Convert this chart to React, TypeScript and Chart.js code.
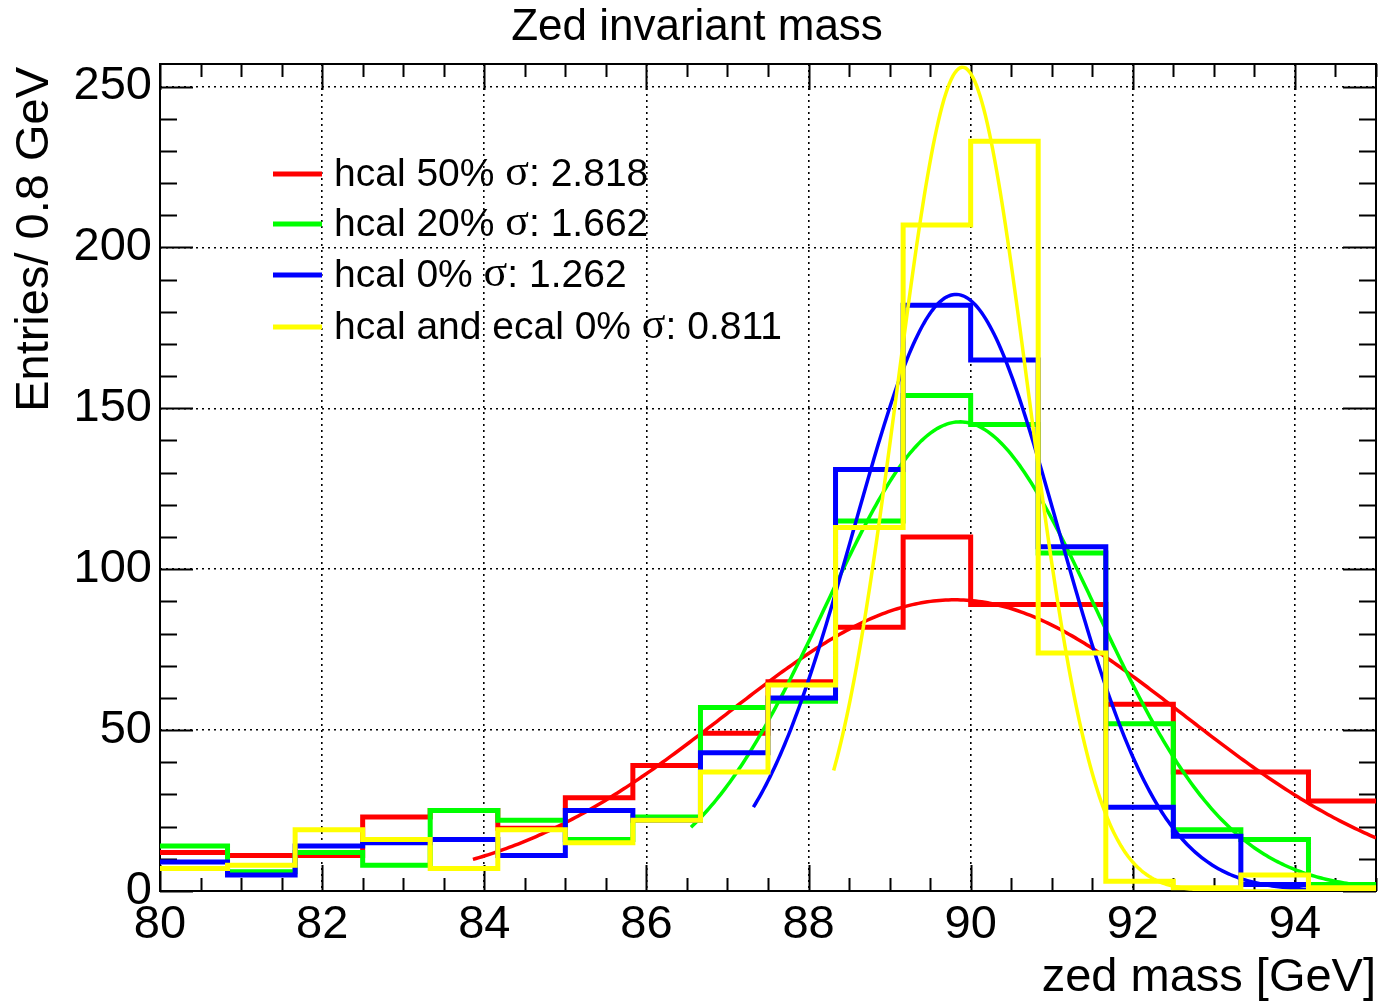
import React, { useEffect, useRef } from "react";
import { Chart, registerables } from "chart.js";

Chart.register(...registerables);

// ---- Data ----
const TITLE = "Zed invariant mass";
const X_TITLE = "zed mass [GeV]";
const Y_TITLE = "Entries/ 0.8 GeV";
const X_MIN = 80;
const X_MAX = 95;
const Y_MAX = 257;

const binLowEdges = [
  80, 80.833, 81.667, 82.5, 83.333, 84.167, 85, 85.833, 86.667, 87.5, 88.333,
  89.167, 90, 90.833, 91.667, 92.5, 93.333, 94.167,
];

const hcal50 = [12, 11, 11, 23, 25, 19.5, 29, 39, 49, 65, 82, 110, 89, 89, 58, 37, 37, 28];
const hcal20 = [14, 6, 12, 8, 25, 22, 16, 23, 57, 59, 115, 154, 145, 105, 52, 19, 16, 2];
const hcal0 = [9, 5, 14, 15, 16, 11, 25, 22, 43, 60, 131, 182, 165, 107, 26, 17, 2, 0];
const hcalEcal0 = [7, 8, 19, 16, 7, 19, 15, 22, 37, 64, 113, 207, 233, 74, 3, 1, 5, 1];

const seriesLabels = ["hcal 50%", "hcal 20%", "hcal 0%", "hcal and ecal 0%"];
const seriesColors = ["#ff0000", "#00ff00", "#0000ff", "#ffff00"];
const fitSigmas = [2.818, 1.662, 1.262, 0.811];
const fitSigmaText = ["2.818", "1.662", "1.262", "0.811"];
const fitMeans = [89.8, 89.87, 89.82, 89.9];
const fitAmplitudes = [90.5, 145.8, 185.4, 256];
const fitStarts = [83.86, 86.55, 87.32, 88.31];
const fitEnds = [95, 95, 95, 95];

const xTickValues = [80, 82, 84, 86, 88, 90, 92, 94];
const yTickValues = [0, 50, 100, 150, 200, 250];

const SANS = "'Liberation Sans', Arial, Helvetica, sans-serif";
const SERIF = "'Liberation Serif', 'DejaVu Serif', serif";

function histPoints(values: number[]) {
  const pts = values.map((v, i) => ({ x: binLowEdges[i], y: v }));
  pts.push({ x: X_MAX, y: values[values.length - 1] });
  return pts;
}

function fitPoints(i: number) {
  const pts: { x: number; y: number }[] = [];
  const n = 300;
  const a = fitStarts[i];
  const b = fitEnds[i];
  for (let k = 0; k <= n; k++) {
    const x = a + ((b - a) * k) / n;
    const d = (x - fitMeans[i]) / fitSigmas[i];
    pts.push({ x, y: fitAmplitudes[i] * Math.exp(-0.5 * d * d) });
  }
  return pts;
}

const frameTicksPlugin = {
  id: "rootFrame",
  beforeDatasetsDraw(chart: any) {
    const { ctx, chartArea: a, scales } = chart;
    const x = scales.x;
    const y = scales.y;
    ctx.save();
    ctx.strokeStyle = "#000";
    ctx.lineWidth = 2;
    ctx.beginPath();
    for (let v = X_MIN; v <= X_MAX + 1e-6; v += 0.5) {
      const px = Math.round(x.getPixelForValue(v)) + 0.5;
      const major = Math.abs(v / 2 - Math.round(v / 2)) < 1e-6;
      const len = major ? 26 : 13;
      ctx.moveTo(px, a.bottom);
      ctx.lineTo(px, a.bottom - len);
      ctx.moveTo(px, a.top);
      ctx.lineTo(px, a.top + len);
    }
    for (let v = 0; v <= Y_MAX; v += 10) {
      const py = Math.round(y.getPixelForValue(v)) + 0.5;
      const major = v % 50 === 0;
      const len = major ? 33 : 17;
      ctx.moveTo(a.left, py);
      ctx.lineTo(a.left + len, py);
      ctx.moveTo(a.right, py);
      ctx.lineTo(a.right - len, py);
    }
    ctx.stroke();
    ctx.lineWidth = 2;
    ctx.strokeRect(a.left, a.top, a.right - a.left, a.bottom - a.top);
    ctx.restore();
  },
  afterDraw(chart: any) {
    const { ctx, chartArea: a } = chart;
    ctx.save();
    ctx.fillStyle = "#000";
    // title
    ctx.font = `44px ${SANS}`;
    ctx.textAlign = "center";
    ctx.textBaseline = "middle";
    ctx.fillText(TITLE, 697, 28);
    // x title
    ctx.font = `47px ${SANS}`;
    ctx.textAlign = "right";
    ctx.fillText(X_TITLE, a.right, 978);
    // y title
    ctx.save();
    ctx.translate(35, a.top + 3);
    ctx.rotate(-Math.PI / 2);
    ctx.textAlign = "right";
    ctx.textBaseline = "middle";
    ctx.fillText(Y_TITLE, 0, 0);
    ctx.restore();

    // legend
    const rowY = [174, 224, 275, 327];
    for (let i = 0; i < seriesLabels.length; i++) {
      const yy = rowY[i];
      ctx.strokeStyle = seriesColors[i];
      ctx.lineWidth = 5;
      ctx.beginPath();
      ctx.moveTo(273, yy);
      ctx.lineTo(322, yy);
      ctx.stroke();
      ctx.fillStyle = "#000";
      ctx.textAlign = "left";
      ctx.textBaseline = "middle";
      let cx = 334;
      ctx.font = `39px ${SANS}`;
      const p1 = seriesLabels[i] + " ";
      ctx.fillText(p1, cx, yy + 1);
      cx += ctx.measureText(p1).width;
      ctx.font = `44px ${SERIF}`;
      ctx.fillText("σ", cx, yy - 1);
      cx += ctx.measureText("σ").width;
      ctx.font = `39px ${SANS}`;
      ctx.fillText(": " + fitSigmaText[i], cx, yy + 1);
    }
    ctx.restore();
  },
};

export default function App() {
  const canvasRef = useRef<HTMLCanvasElement | null>(null);

  useEffect(() => {
    const canvas = canvasRef.current;
    if (!canvas) return;
    Chart.defaults.font.family = SANS;
    const datasets: any[] = [];
    for (let i = 0; i < 4; i++) {
      const vals = [hcal50, hcal20, hcal0, hcalEcal0][i];
      datasets.push({
        label: seriesLabels[i],
        data: histPoints(vals),
        borderColor: seriesColors[i],
        borderWidth: 5,
        stepped: "before",
        pointRadius: 0,
        fill: false,
        order: 8 - 2 * i,
        borderJoinStyle: "miter",
      });
      datasets.push({
        label: seriesLabels[i] + " fit",
        data: fitPoints(i),
        borderColor: seriesColors[i],
        borderWidth: 3.5,
        pointRadius: 0,
        tension: 0,
        fill: false,
        order: 7 - 2 * i,
      });
    }

    const chart = new Chart(canvas, {
      type: "line",
      data: { datasets },
      plugins: [frameTicksPlugin],
      options: {
        animation: false,
        responsive: false,
        devicePixelRatio: 1,
        layout: { padding: { top: 64, right: 5, bottom: 0, left: 0 } },
        plugins: {
          legend: { display: false },
          tooltip: { enabled: false },
          title: { display: false },
        },
        scales: {
          x: {
            type: "linear",
            min: X_MIN,
            max: X_MAX,
            afterFit: (s: any) => {
              s.height = 112;
            },
            afterBuildTicks: (s: any) => {
              s.ticks = xTickValues.map((v) => ({ value: v }));
            },
            ticks: {
              font: { size: 47, family: SANS },
              color: "#000",
              padding: 6,
              maxRotation: 0,
              autoSkip: false,
              callback: (v: any) => String(v),
            },
            grid: {
              drawTicks: false,
              color: (c: any) => (c.tick && c.tick.value === X_MIN ? "rgba(0,0,0,0)" : "#000"),
              lineWidth: 1.6,
            },
            border: { display: false, dash: [2, 4] },
          },
          y: {
            type: "linear",
            min: 0,
            max: Y_MAX,
            afterFit: (s: any) => {
              s.width = 160;
            },
            afterBuildTicks: (s: any) => {
              s.ticks = yTickValues.map((v) => ({ value: v }));
            },
            ticks: {
              font: { size: 47, family: SANS },
              color: "#000",
              padding: 8,
              autoSkip: false,
              callback: (v: any) => String(v),
            },
            grid: {
              drawTicks: false,
              color: (c: any) => (c.tick && c.tick.value === 0 ? "rgba(0,0,0,0)" : "#000"),
              lineWidth: 1.6,
            },
            border: { display: false, dash: [2, 4] },
          },
        },
      },
    } as any);
    return () => chart.destroy();
  }, []);

  return (
    <div style={{ position: "fixed", left: 0, top: 0, width: 1381, height: 1003, background: "#fff" }}>
      <canvas ref={canvasRef} width={1381} height={1003} style={{ display: "block", width: 1381, height: 1003 }} />
    </div>
  );
}
